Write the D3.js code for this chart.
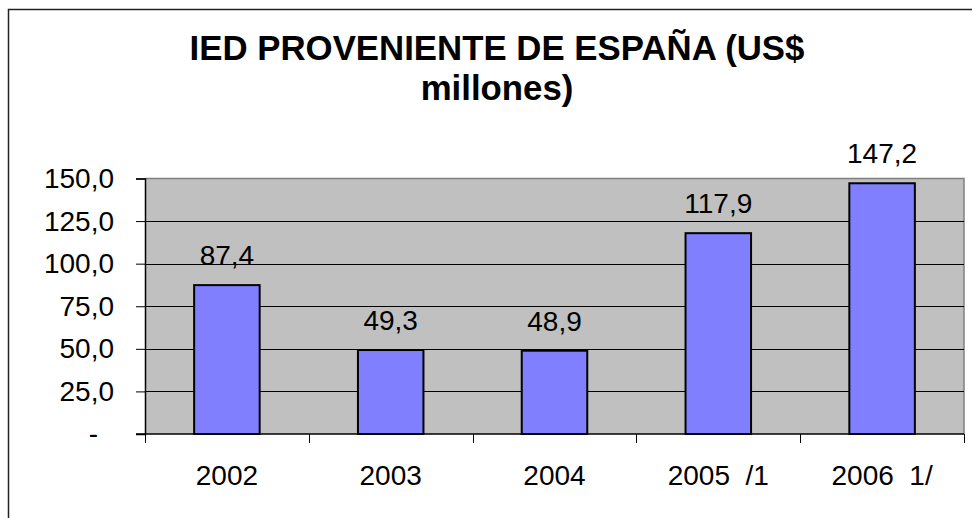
<!DOCTYPE html>
<html>
<head>
<meta charset="utf-8">
<script src="https://cdn.jsdelivr.net/npm/d3@7"></script>
<style>
  body { margin: 0; background: #fff; }
  text { font-family: "Liberation Sans", Arial, sans-serif; }
</style>
</head>
<body>
<div class="chart"></div>
<script>
var width = 972, height = 518

var categories = ["2002", "2003", "2004", "2005  /1", "2006  1/"]
var values = [87.4, 49.3, 48.9, 117.9, 147.2]
var yTicks = [0, 25, 50, 75, 100, 125, 150]
var titleLines = ["IED PROVENIENTE DE ESPAÑA (US$", "millones)"]

var labelSize = 28

const svg = d3.select(".chart")
    .append("svg")
    .attr("width", width)
    .attr("height", height)

// outer chart frame (runs off the right/bottom edge)
svg.append("rect")
    .attr("x", 8.5).attr("y", 9.5)
    .attr("width", 1000).attr("height", 1000)
    .attr("fill", "none")
    .attr("stroke", "#222")
    .attr("stroke-width", 1.5)

var plot = {left: 145, right: 964, top: 178.5, bottom: 434}

var x = d3.scaleBand()
    .domain(categories)
    .range([plot.left, plot.right])
    .paddingInner(0.6)
    .paddingOuter(0.3)

var y = d3.scaleLinear()
    .domain([0, 150])
    .range([plot.bottom, plot.top])

function fmt(v) {
    if (v == 0) return "-"
    return d3.format(".1f")(v).replace(".", ",")
}

// plot background
svg.append("rect")
    .attr("x", plot.left).attr("y", plot.top)
    .attr("width", plot.right - plot.left)
    .attr("height", plot.bottom - plot.top)
    .attr("fill", "#c0c0c0")

// top and right plot edges
svg.append("path")
    .attr("d", "M" + plot.left + "," + plot.top + "H" + plot.right + "V" + plot.bottom)
    .attr("fill", "none")
    .attr("stroke", "#808080")
    .attr("stroke-width", 1.5)

// gridlines
svg.append("g")
    .selectAll("line")
    .data(yTicks.filter(function(d){ return d > 0 && d < 150 }))
    .enter()
    .append("line")
    .attr("x1", plot.left).attr("x2", plot.right)
    .attr("y1", function(d){ return Math.round(y(d)) + 0.5 })
    .attr("y2", function(d){ return Math.round(y(d)) + 0.5 })
    .attr("stroke", "#000")
    .attr("stroke-width", 1)

// y axis
var yAxis = d3.axisLeft(y)
    .tickValues(yTicks)
    .tickSize(9)
    .tickPadding(22)
    .tickFormat(fmt)

var gy = svg.append("g")
    .attr("transform", "translate(" + plot.left + ",0)")
    .call(yAxis)
gy.select(".domain").attr("stroke", "#000").attr("stroke-width", 1.5)
gy.selectAll(".tick line").attr("stroke", "#000")
gy.selectAll(".tick text")
    .attr("font-size", labelSize)
    .attr("font-family", "Liberation Sans, Arial, sans-serif")
    .attr("fill", "#000")
    .attr("dx", function(d){ return d == 0 ? -16 : 0 })

// x axis with ticks at the band edges
var edges = categories.map(function(c){ return x(c) - x.step() * x.paddingInner() / 2 })
edges.push(plot.right)

svg.append("line")
    .attr("x1", plot.left - 9).attr("x2", plot.right)
    .attr("y1", plot.bottom).attr("y2", plot.bottom)
    .attr("stroke", "#000")
    .attr("stroke-width", 1.5)

svg.append("g")
    .selectAll("line")
    .data(edges)
    .enter()
    .append("line")
    .attr("x1", function(d){ return Math.round(d) + 0.5 })
    .attr("x2", function(d){ return Math.round(d) + 0.5 })
    .attr("y1", plot.bottom).attr("y2", plot.bottom + 9)
    .attr("stroke", "#000")

svg.append("g")
    .selectAll("text")
    .data(categories)
    .enter()
    .append("text")
    .attr("x", function(d){ return x(d) + x.bandwidth() / 2 })
    .attr("y", 485)
    .attr("text-anchor", "middle")
    .attr("font-size", labelSize)
    .style("white-space", "pre")
    .text(function(d){ return d })

// bars
svg.append("g")
    .selectAll("rect")
    .data(values)
    .enter()
    .append("rect")
    .attr("x", function(d, i){ return x(categories[i]) })
    .attr("y", function(d){ return y(d) })
    .attr("width", x.bandwidth())
    .attr("height", function(d){ return y(0) - y(d) })
    .attr("fill", "#8080ff")
    .attr("stroke", "#000")
    .attr("stroke-width", 2)

// data labels
svg.append("g")
    .selectAll("text")
    .data(values)
    .enter()
    .append("text")
    .attr("x", function(d, i){ return x(categories[i]) + x.bandwidth() / 2 })
    .attr("y", function(d){ return y(d) - 20 })
    .attr("text-anchor", "middle")
    .attr("font-size", labelSize)
    .text(fmt)

// title
svg.append("g")
    .selectAll("text")
    .data(titleLines)
    .enter()
    .append("text")
    .attr("x", 497)
    .attr("y", function(d, i){ return 60 + i * 40 })
    .attr("text-anchor", "middle")
    .attr("font-size", 34.8)
    .attr("font-weight", "bold")
    .text(function(d){ return d })
</script>
</body>
</html>
